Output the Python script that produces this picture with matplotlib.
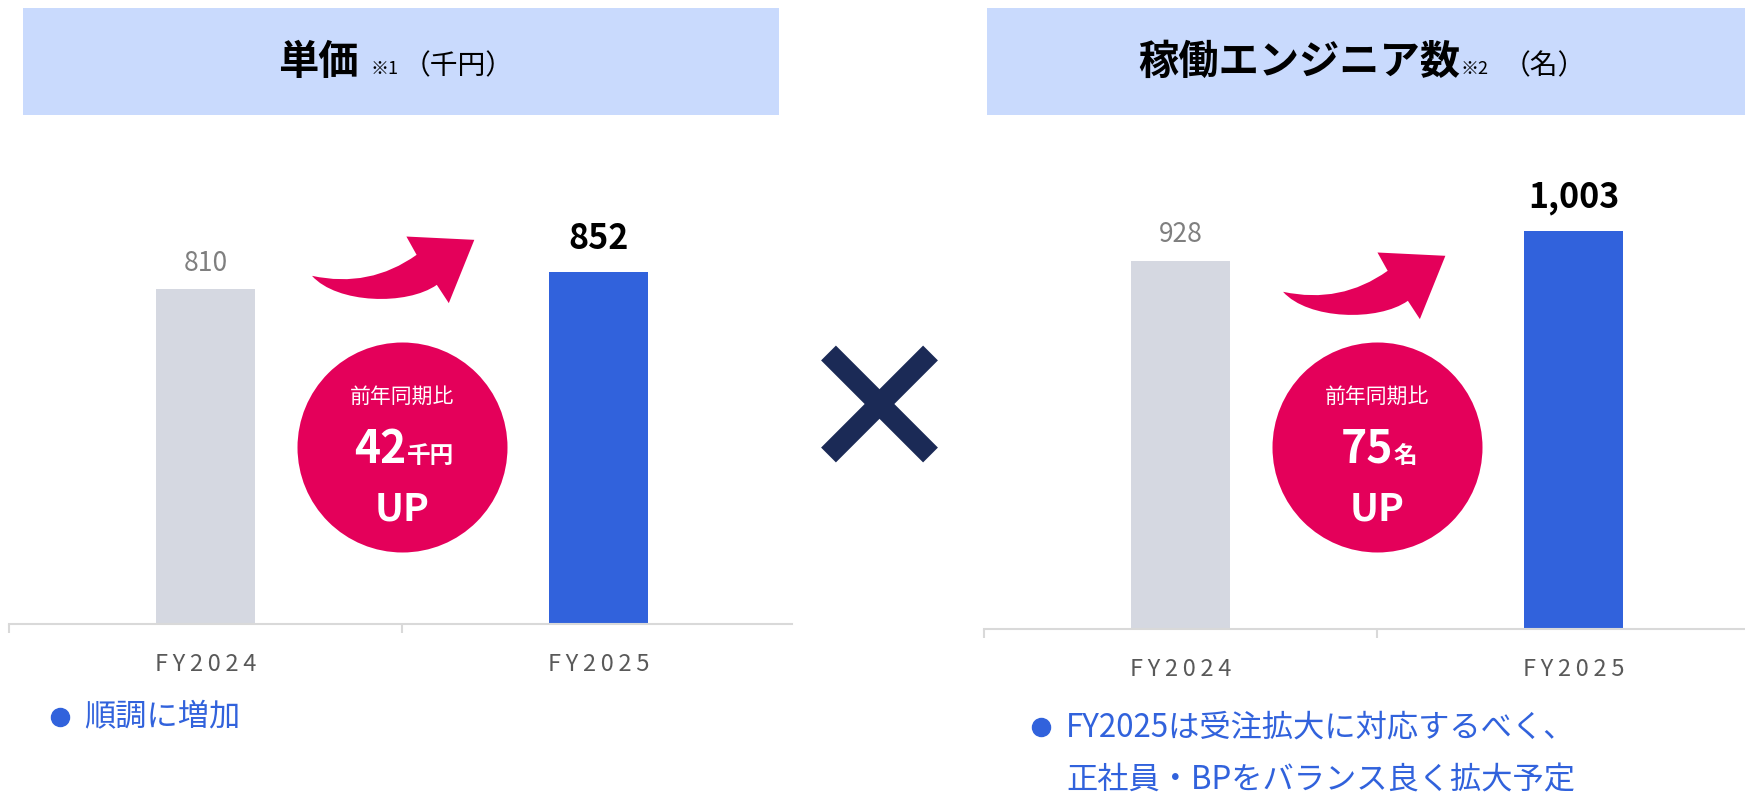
import matplotlib
matplotlib.use("Agg")
import matplotlib.pyplot as plt
from matplotlib.patches import Rectangle, PathPatch
from matplotlib.path import Path
from matplotlib.lines import Line2D
from matplotlib.transforms import Affine2D

plt.rcParams['font.family'] = ['Noto Sans CJK JP', 'DejaVu Sans']

# ---- data ----
years = ["FY2024", "FY2025"]
price = [810, 852]            # 単価（千円）
engineers = [928, 1003]       # 稼働エンジニア数（名）
price_diff = ["42", "千円"]
eng_diff = ["75", "名"]
notes_left = ["順調に増加"]
notes_right = ["FY2025は受注拡大に対応するべく、", "正社員・BPをバランス良く拡大予定"]

GRAY_BAR = "#d5d8e1"
BLUE = "#3162dc"
PINK = "#e4005a"
NAVY = "#1b2a56"
HEAD = "#c9dafd"
AXIS = "#d9d9d9"

W, H = 1745, 793
fig = plt.figure(figsize=(W / 100, H / 100), dpi=100)


def fx(x):
    return x / W


def fy(y):
    return 1 - y / H


def text_row(xc, y, pieces):
    # pieces: (text, size, weight, color, gap before in px), centred on xc, baseline y (px)
    r = fig.canvas.get_renderer()
    objs, widths = [], []
    for s, size, weight, color, gap in pieces:
        t = fig.text(0, 0, s, fontsize=size, fontweight=weight, color=color,
                     ha='left', va='baseline')
        widths.append(t.get_window_extent(r).width)
        objs.append(t)
    total = sum(widths) + sum(p[4] for p in pieces)
    x = xc - total / 2
    for t, w, p in zip(objs, widths, pieces):
        x += p[4]
        t.set_position((fx(x), fy(y)))
        x += w


# header boxes + titles
for x0, x1 in [(23, 779), (987, 1745)]:
    fig.add_artist(Rectangle((fx(x0), fy(115)), (x1 - x0) / W, 107 / H,
                             transform=fig.transFigure, color=HEAD, lw=0, zorder=0))
text_row(396, 74, [("単価", 29, 'bold', 'black', 0), ("※1", 13, 'normal', 'black', 12),
                   ("（千円）", 20, 'normal', 'black', 4)])
text_row(1362, 74, [("稼働エンジニア数", 29, 'bold', 'black', 0), ("※2", 13, 'normal', 'black', 1),
                    ("（名）", 20, 'normal', 'black', 14)])

# arrow outline in px, relative to tail point (y down)
arrow_verts = [(0, 0), (57.7, 12.5), (104.6, -21), (94.4, -39.3), (162.3, -36),
               (136.8, 27.3), (124.8, 9), (95, 30), (25, 28), (0, 0), (0, 0)]
arrow_codes = [Path.MOVETO, Path.CURVE3, Path.CURVE3, Path.LINETO, Path.LINETO,
               Path.LINETO, Path.LINETO, Path.CURVE4, Path.CURVE4, Path.CURVE4, Path.CLOSEPOLY]
arrow_path = Path(arrow_verts, arrow_codes)


def panel(left, right, base, scale, vals, diff, circ_y, tail):
    top = 140
    ax = fig.add_axes([fx(left), fy(base), (right - left) / W, (base - top) / H])
    ax.bar([0, 1], vals, width=0.25, color=[GRAY_BAR, BLUE], zorder=2)
    for s in ['left', 'right', 'top']:
        ax.spines[s].set_visible(False)
    ax.spines['bottom'].set_color(AXIS)
    ax.spines['bottom'].set_linewidth(1.5)
    ax.set_yticks([])
    ax.set_xticks([0, 1])
    ax.set_xticklabels(["\u2009".join(y) for y in years], fontsize=17, color='#595959')
    ax.tick_params(axis='x', which='major', length=0, pad=21)
    ax.set_xticks([-0.5, 0.5, 1.5], minor=True)
    ax.tick_params(axis='x', which='minor', length=6.5, width=1.5, color=AXIS)
    ax.set_xlim(-0.5, -0.5 + (right - left) / 393)
    ax.set_ylim(0, (base - top) / scale)
    ax.set_facecolor('none')

    ax.annotate(f"{vals[0]:,}", (0, vals[0]), xytext=(0, 19), textcoords='offset points',
                ha='center', va='center', fontsize=19, color='#7f7f7f')
    ax.annotate(f"{vals[1]:,}", (1, vals[1]), xytext=(0, 24), textcoords='offset points',
                ha='center', va='center', fontsize=24.5, fontweight='bold', color='black')

    # circle badge
    ax.scatter([0.5], [circ_y], s=22861, color=PINK, lw=0, zorder=3, clip_on=False)
    cx, cyd = ax.transData.transform((0.5, circ_y))
    cy = H - cyd
    fig.text(fx(cx), fy(cy - 50), "前年同期比", fontsize=15, color='white',
             ha='center', va='center')
    text_row(cx + 2, cy + 16, [(diff[0], 32, 'bold', 'white', 0), (diff[1], 17, 'bold', 'white', 0)])
    fig.text(fx(cx), fy(cy + 62), "UP", fontsize=28, fontweight='bold', color='white',
             ha='center', va='center')

    # curved arrow
    tx, tyd = ax.transData.transform(tail)
    ty = H - tyd
    tr = Affine2D().scale(1 / W, -1 / H).translate(fx(tx), fy(ty)) + fig.transFigure
    fig.add_artist(PathPatch(arrow_path, transform=tr, color=PINK, lw=0))
    return ax


panel(9, 792, 624, 0.413, price, price_diff, 429, (0.271, 843))
panel(984, 1745, 629, 0.3967, engineers, eng_diff, 459, (0.261, 850))

# multiplication sign
for (xa, ya), (xb, yb) in [((828.5, 353), (930.5, 455)), ((930.5, 353), (828.5, 455))]:
    fig.add_artist(Line2D([fx(xa), fx(xb)], [fy(ya), fy(yb)], lw=15.1, color=NAVY,
                          solid_capstyle='butt', transform=fig.transFigure))

# notes
fig.add_artist(Line2D([fx(60)], [fy(717)], marker='o', ms=13, color=BLUE, lw=0,
                      transform=fig.transFigure))
fig.text(fx(84), fy(717), notes_left[0], fontsize=22.5, color=BLUE, ha='left', va='center')
fig.add_artist(Line2D([fx(1041)], [fy(727)], marker='o', ms=13, color=BLUE, lw=0,
                      transform=fig.transFigure))
for i, line in enumerate(notes_right):
    fig.text(fx(1066), fy(727 + 53 * i), line, fontsize=22.5, color=BLUE, ha='left', va='center')

fig.savefig("out.png", dpi=100)
